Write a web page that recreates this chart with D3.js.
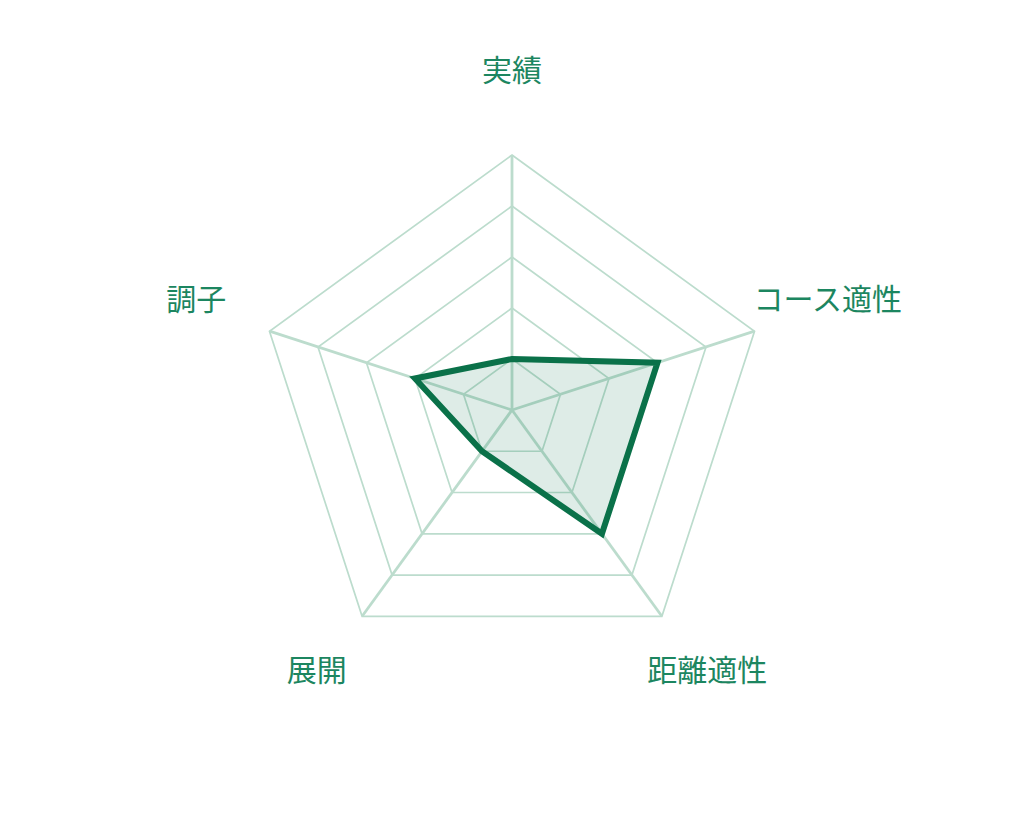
<!DOCTYPE html>
<html>
<head>
<meta charset="utf-8">
<script src="https://cdn.jsdelivr.net/npm/d3@7"></script>
<style>
  html, body { margin: 0; padding: 0; background: #fff; }
  svg { display: block; }
</style>
</head>
<body>
<svg id="chart" width="1024" height="820"></svg>
<script>
// axes, clockwise from the top
var axes = ["実績", "コース適性", "距離適性", "展開", "調子"];
var values = [1, 3, 3, 1, 2];
var levels = [1, 2, 3, 4, 5];
var maxValue = 5;

var width = 1024, height = 820;
var cx = 512, cy = 410, radius = 255;
var labelRadius = 332;

var svg = d3.select("#chart");
var g = svg.append("g").attr("transform", `translate(${cx}, ${cy})`);

var r = d3.scaleLinear().domain([0, maxValue]).range([0, radius]);
var angle = d3.scaleLinear().domain([0, axes.length]).range([0, 2 * Math.PI]);

function point(i, v) {
  var a = angle(i);
  return [r(v) * Math.sin(a), -r(v) * Math.cos(a)];
}

var line = d3.line().curve(d3.curveLinearClosed);

// rings
g.selectAll(".ring")
  .data(levels)
  .enter()
  .append("path")
  .attr("class", "ring")
  .attr("d", function(l) { return line(axes.map(function(_, i) { return point(i, l); })); })
  .style("fill", "none")
  .style("stroke", "#bcdccd")
  .style("stroke-width", 1.7);

// spokes
g.selectAll(".spoke")
  .data(axes)
  .enter()
  .append("line")
  .attr("class", "spoke")
  .attr("x1", 0)
  .attr("y1", 0)
  .attr("x2", function(d, i) { return point(i, maxValue)[0]; })
  .attr("y2", function(d, i) { return point(i, maxValue)[1]; })
  .style("stroke", "#bcdccd")
  .style("stroke-width", 2.8);

// data polygon
g.append("path")
  .datum(values)
  .attr("d", function(d) { return line(d.map(function(v, i) { return point(i, v); })); })
  .style("fill", "#137a55")
  .style("fill-opacity", 0.14)
  .style("stroke", "#0a7149")
  .style("stroke-width", 6)
  .style("stroke-linejoin", "miter");

// labels
g.selectAll(".label")
  .data(axes)
  .enter()
  .append("text")
  .attr("class", "label")
  .attr("x", function(d, i) { return labelRadius * Math.sin(angle(i)); })
  .attr("y", function(d, i) { return -labelRadius * Math.cos(angle(i)) - 8; })
  .attr("dy", "0.35em")
  .style("text-anchor", "middle")
  .style("font-family", "'Noto Sans CJK JP', 'Noto Sans', sans-serif")
  .style("font-weight", 400)
  .style("font-size", "30px")
  .style("fill", "#1c8660")
  .text(function(d) { return d; });
</script>
</body>
</html>
